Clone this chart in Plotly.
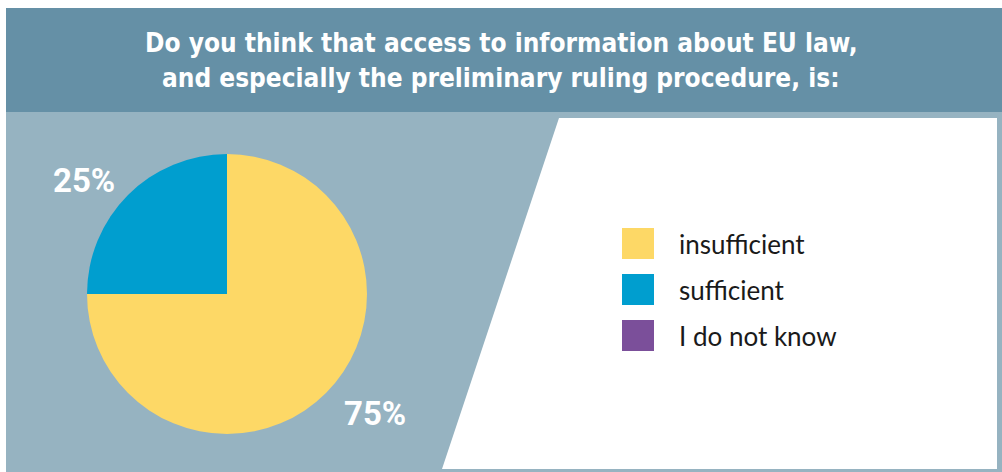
import plotly.graph_objects as go

# ---- data ----
title_lines = ["Do you think that access to information about EU law,",
               "and especially the preliminary ruling procedure, is:"]
categories = ["insufficient", "sufficient", "I do not know"]
values = [75, 25, 0]
colors = ["#fdd866", "#009ecf", "#7b4f9a"]

W, H = 1002, 472
HEADER = "#6590a6"
BODY = "#96b3c1"

def px(x):
    return x / W

def py(y):
    return 1 - y / H

fig = go.Figure()

fig.add_trace(go.Pie(
    labels=categories, values=values,
    marker=dict(colors=colors, line=dict(width=0)),
    sort=False, direction="clockwise", rotation=0,
    textinfo="none", hoverinfo="label+percent",
    showlegend=False,
    domain=dict(x=[px(87), px(367)], y=[py(434), py(154)]),
))

shapes = [
    # body background
    dict(type="rect", xref="paper", yref="paper", x0=px(6), x1=1, y0=0, y1=py(112),
         fillcolor=BODY, line=dict(width=0), layer="below"),
    # header
    dict(type="rect", xref="paper", yref="paper", x0=px(6), x1=1, y0=py(112), y1=py(8),
         fillcolor=HEADER, line=dict(width=0), layer="below"),
    # white slanted panel
    dict(type="path", xref="paper", yref="paper",
         path=f"M {px(559)},{py(118)} L {px(997)},{py(118)} L {px(997)},{py(469)} L {px(442)},{py(469)} Z",
         fillcolor="white", line=dict(width=0), layer="below"),
]

annotations = []
# title
for i, line in enumerate(title_lines):
    annotations.append(dict(
        text=f"<b>{line}</b>", xref="paper", yref="paper",
        x=px(501), y=py(43 + 35 * i), xanchor="center", yanchor="middle",
        showarrow=False,
        font=dict(family="DejaVu Sans Condensed, Liberation Sans Narrow, Roboto", size=26, color="white"),
    ))

# slice labels
label_pos = {"sufficient": (84, 180), "insufficient": (375, 413)}
total = sum(values)
for cat, v in zip(categories, values):
    if cat in label_pos:
        lx, ly = label_pos[cat]
        annotations.append(dict(
            text=f"<b>{round(100 * v / total)}%</b>", xref="paper", yref="paper",
            x=px(lx), y=py(ly), xanchor="center", yanchor="middle", showarrow=False,
            font=dict(family="Roboto, Noto Sans", size=33, color="white"),
        ))

# legend (manual, large squares)
for i, (cat, c) in enumerate(zip(categories, colors)):
    top = 228 + 46 * i
    shapes.append(dict(type="rect", xref="paper", yref="paper",
                       x0=px(622), x1=px(654), y0=py(top + 31), y1=py(top),
                       fillcolor=c, line=dict(width=0)))
    annotations.append(dict(
        text=cat, xref="paper", yref="paper", x=px(677), y=py(top + 15.5),
        xanchor="left", yanchor="middle", showarrow=False,
        font=dict(family="Lato, Noto Sans", size=26, color="#1a1a1a"),
    ))

fig.update_layout(
    width=W, height=H,
    margin=dict(l=0, r=0, t=0, b=0),
    paper_bgcolor="white", plot_bgcolor="white",
    shapes=shapes, annotations=annotations,
)

fig.write_html("out.html", config={"displayModeBar": False},
               post_script="document.body.style.margin='0';document.body.style.padding='0';")
